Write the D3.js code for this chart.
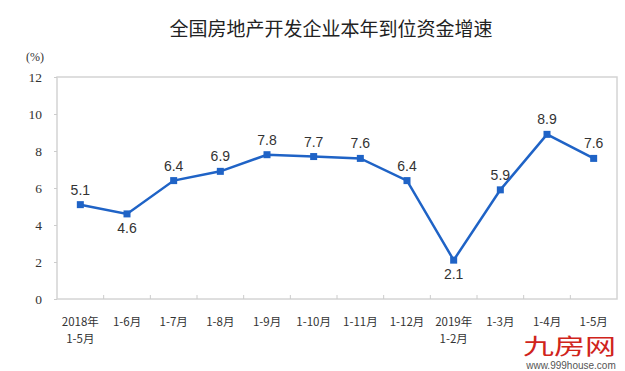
<!DOCTYPE html>
<html>
<head>
<meta charset="utf-8">
<script src="https://cdn.jsdelivr.net/npm/d3@7"></script>
<style>
  body { margin: 0; background: #fff; }
  svg { display: block; }
</style>
</head>
<body>
<svg width="625" height="371"></svg>
<script>
// chart data
var categories = ["2018年\n1-5月", "1-6月", "1-7月", "1-8月", "1-9月", "1-10月",
                  "1-11月", "1-12月", "2019年\n1-2月", "1-3月", "1-4月", "1-5月"];
var values = [5.1, 4.6, 6.4, 6.9, 7.8, 7.7, 7.6, 6.4, 2.1, 5.9, 8.9, 7.6];
var yTicks = [0, 2, 4, 6, 8, 10, 12];
var labelBelow = [1, 8]; // indexes whose labels sit under the point

var svg = d3.select("svg"),
    margin = {top: 77, right: 8, bottom: 72, left: 57},
    width = +svg.attr("width") - margin.left - margin.right,
    height = +svg.attr("height") - margin.top - margin.bottom,
    g = svg.append("g").attr("transform", "translate(" + margin.left + "," + margin.top + ")");

var x = d3.scaleBand()
    .domain(categories)
    .range([0, width]);

var y = d3.scaleLinear()
    .domain([0, 12])
    .range([height, 0]);

// title
svg.append("text")
    .attr("x", 331)
    .attr("y", 36)
    .attr("text-anchor", "middle")
    .style("font-family", "'Noto Sans CJK SC', sans-serif")
    .style("font-size", "19px")
    .style("fill", "#222")
    .text("全国房地产开发企业本年到位资金增速");

svg.append("text")
    .attr("x", 26)
    .attr("y", 61)
    .style("font-family", "'Liberation Serif', serif")
    .style("font-size", "12px")
    .style("fill", "#333")
    .text("(%)");

// plot frame
g.append("rect")
    .attr("width", width)
    .attr("height", height)
    .attr("fill", "none")
    .attr("stroke", "#d4d4d4")
    .attr("stroke-width", 1.5);

// y axis
var yAxis = g.append("g")
    .call(d3.axisLeft(y).tickValues(yTicks).tickSize(3).tickPadding(12));
yAxis.select(".domain").remove();
yAxis.selectAll("line").attr("stroke", "#ccc");
yAxis.selectAll("text")
    .style("font-family", "'Liberation Serif', serif")
    .style("font-size", "13.5px")
    .style("fill", "#333");

// x axis: tick marks between categories
g.selectAll(".xtick")
    .data(categories.slice(1))
    .enter().append("line")
    .attr("class", "xtick")
    .attr("x1", function(d) { return x(d); })
    .attr("x2", function(d) { return x(d); })
    .attr("y1", height)
    .attr("y2", height - 4)
    .attr("stroke", "#ccc");

var xl = g.selectAll(".xlab")
    .data(categories)
    .enter().append("text")
    .attr("class", "xlab")
    .attr("text-anchor", "middle")
    .attr("transform", function(d) { return "translate(" + (x(d) + x.bandwidth() / 2) + "," + (height + 27) + ")"; })
    .style("font-family", "'Noto Sans CJK SC', sans-serif")
    .style("font-size", "11.5px")
    .style("fill", "#333");

xl.selectAll("tspan")
    .data(function(d) { return d.split("\n"); })
    .enter().append("tspan")
    .attr("x", 0)
    .attr("dy", function(d, i) { return i ? 17 : 0; })
    .text(function(d) { return d; });

// line
var line = d3.line()
    .x(function(d, i) { return x(categories[i]) + x.bandwidth() / 2; })
    .y(function(d) { return y(d); });

g.append("path")
    .datum(values)
    .attr("fill", "none")
    .attr("stroke", "#1f63c6")
    .attr("stroke-width", 2.5)
    .attr("d", line);

g.selectAll(".pt")
    .data(values)
    .enter().append("rect")
    .attr("class", "pt")
    .attr("x", function(d, i) { return x(categories[i]) + x.bandwidth() / 2 - 3.5; })
    .attr("y", function(d) { return y(d) - 3.5; })
    .attr("width", 7)
    .attr("height", 7)
    .attr("fill", "#1f63c6");

g.selectAll(".lab")
    .data(values)
    .enter().append("text")
    .attr("class", "lab")
    .attr("text-anchor", "middle")
    .attr("x", function(d, i) { return x(categories[i]) + x.bandwidth() / 2; })
    .attr("y", function(d, i) { return labelBelow.indexOf(i) >= 0 ? y(d) + 19 : y(d) - 10; })
    .style("font-family", "'Liberation Sans', Arial, sans-serif")
    .style("font-size", "14px")
    .style("fill", "#333")
    .text(function(d) { return d.toFixed(1); });

// watermark
svg.append("text")
    .attr("x", 523)
    .attr("y", 354)
    .attr("textLength", 93)
    .attr("lengthAdjust", "spacingAndGlyphs")
    .style("font-family", "'Noto Sans CJK SC', sans-serif")
    .style("font-size", "22px")
    .style("fill", "#d0241b")
    .text("九房网");

svg.append("text")
    .attr("x", 571)
    .attr("y", 369)
    .attr("text-anchor", "middle")
    .style("font-family", "'Liberation Sans', Arial, sans-serif")
    .style("font-size", "10px")
    .style("fill", "#555")
    .text("www.999house.com");
</script>
</body>
</html>
